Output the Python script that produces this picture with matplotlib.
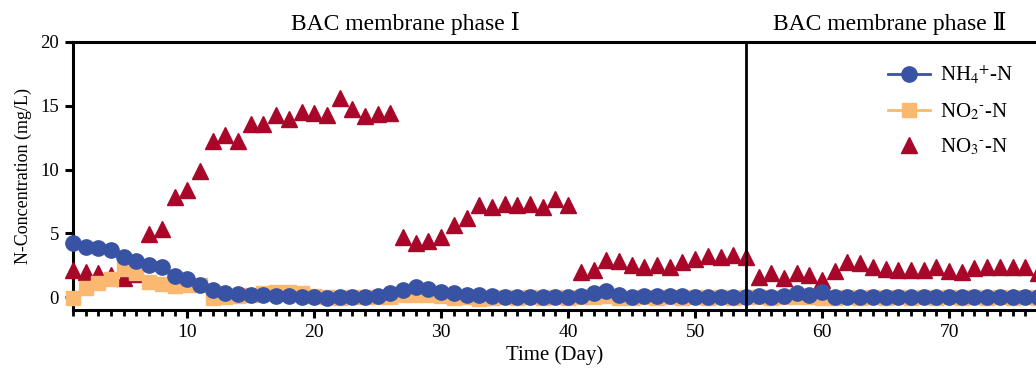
import numpy as np
import matplotlib
matplotlib.use("Agg")
import matplotlib.pyplot as plt
from matplotlib.lines import Line2D
from matplotlib.ticker import MultipleLocator

plt.rcParams['font.family'] = ['Liberation Serif', 'DejaVu Serif', 'Noto Sans CJK SC']
plt.rcParams['mathtext.fontset'] = 'stix'

days = np.arange(1, 78)

nh4 = [4.25, 3.96, 3.83, 3.70, 3.17, 2.86, 2.52, 2.34, 1.70, 1.45,
       0.95, 0.55, 0.35, 0.25, 0.18, 0.15, 0.10, 0.10, 0.05, 0.05,
       -0.05, 0.00, 0.05, 0.05, 0.10, 0.30, 0.60, 0.80, 0.68, 0.42,
       0.30, 0.20, 0.15, 0.10, 0.05, 0.00, 0.05, 0.00, 0.05, 0.05,
       0.10, 0.30, 0.45, 0.15, 0.05, 0.10, 0.10, 0.10, 0.10, 0.05,
       0.05, 0.05, 0.05, 0.05, 0.10, 0.05, 0.10, 0.35, 0.20, 0.40,
       0.00, 0.05, 0.05, 0.05, 0.05, 0.05, 0.05, 0.05, 0.05, 0.05,
       0.05, 0.05, 0.05, 0.05, 0.05, 0.05, 0.05]

no2 = [-0.05, 0.70, 1.10, 1.40, 2.20, 1.90, 1.20, 1.05, 0.90, 0.95,
       0.95, -0.05, 0.00, 0.10, 0.15, 0.35, 0.40, 0.40, 0.30, 0.10,
       0.00, -0.05, 0.00, 0.05, 0.00, 0.05, 0.15, 0.20, 0.20, 0.10,
       -0.05, 0.00, -0.10, -0.05, 0.00, -0.05, 0.00, -0.05, 0.00, -0.05,
       0.00, 0.05, 0.10, -0.05, -0.05, 0.00, -0.05, 0.00, -0.05, 0.00,
       -0.05, 0.00, -0.05, 0.00, 0.00, -0.05, 0.00, 0.05, 0.00, -0.05,
       -0.05, 0.00, -0.05, 0.00, -0.05, 0.00, -0.05, 0.00, -0.05, 0.00,
       -0.05, 0.00, -0.05, 0.00, -0.05, 0.00, -0.05]

no3 = [2.15, 1.94, 1.90, 1.73, 1.47, 1.80, 4.96, 5.35, 7.85, 8.42,
       9.87, 12.23, 12.68, 12.23, 13.54, 13.54, 14.25, 13.94, 14.51, 14.46,
       14.25, 15.64, 14.72, 14.20, 14.33, 14.41, 4.70, 4.28, 4.43, 4.70,
       5.67, 6.20, 7.24, 7.11, 7.32, 7.19, 7.32, 7.11, 7.69, 7.24,
       1.99, 2.13, 2.91, 2.83, 2.52, 2.39, 2.52, 2.39, 2.73, 2.97,
       3.23, 3.13, 3.30, 3.17, 1.60, 1.92, 1.47, 1.92, 1.73, 1.34,
       2.07, 2.73, 2.65, 2.39, 2.20, 2.13, 2.17, 2.13, 2.39, 2.07,
       1.94, 2.30, 2.39, 2.35, 2.39, 2.35, 1.92]

phase_labels = ['BAC membrane phase \u2160', 'BAC membrane phase \u2161']
phase_label_x = [27.2, 65.3]
phase_split = 54

blue = '#3953A4'
orange = '#FBB871'
red = '#A8072A'

fig = plt.figure(figsize=(10.36, 3.76), dpi=100)
ax = fig.add_axes([73 / 1036, 66 / 376, 963 / 1036, 268 / 376])

ax.plot(days, no3, linestyle='none', marker='^', ms=12, color=red, mec=red,
        zorder=3, clip_on=False)
ax.plot(days, no2, linestyle='none', marker='s', ms=10.5, color=orange, mec=orange,
        zorder=4, clip_on=False)
ax.plot(days, nh4, linestyle='none', marker='o', ms=11, color=blue, mec=blue,
        zorder=5, clip_on=False)

ax.axvline(phase_split, color='black', lw=2, zorder=6)

ax.set_xlim(1, 76.85)
ax.set_ylim(-1, 20)
ax.xaxis.set_major_locator(MultipleLocator(10))
ax.xaxis.set_minor_locator(MultipleLocator(1))
ax.set_yticks([0, 5, 10, 15, 20])

for s in ['left', 'bottom', 'top']:
    ax.spines[s].set_linewidth(2.2)
ax.spines['right'].set_visible(False)
ax.tick_params(axis='both', which='major', direction='out', length=6, width=2.2,
               labelsize=14, pad=4)
ax.tick_params(axis='y', which='major', labelsize=13.5)
ax.tick_params(axis='x', which='minor', direction='out', length=4, width=2.0)

ax.set_xlabel('Time (Day)', fontsize=15, labelpad=3)
ax.set_ylabel('N-Concentration (mg/L)', fontsize=13, labelpad=6)

for lab, x in zip(phase_labels, phase_label_x):
    ax.text(x, 1.025, lab, transform=ax.get_xaxis_transform(), ha='center',
            va='bottom', fontsize=17)

handles = [
    Line2D([], [], color=blue, marker='o', ms=11, lw=2),
    Line2D([], [], color=orange, marker='s', ms=10.5, lw=2),
    Line2D([], [], color=red, marker='^', ms=12, linestyle='none'),
]
labels = [r'NH$_4$$^{+}$-N', r'NO$_2$$^{\text{-}}$-N', r'NO$_3$$^{\text{-}}$-N']
ax.legend(handles, labels, loc='upper left', frameon=False, fontsize=15,
          bbox_to_anchor=(880 / 1036, 1 - 56 / 376), bbox_transform=fig.transFigure,
          handlelength=2.0, labelspacing=0.7, handletextpad=0.5, borderaxespad=0)

fig.savefig('out.png', dpi=100)
